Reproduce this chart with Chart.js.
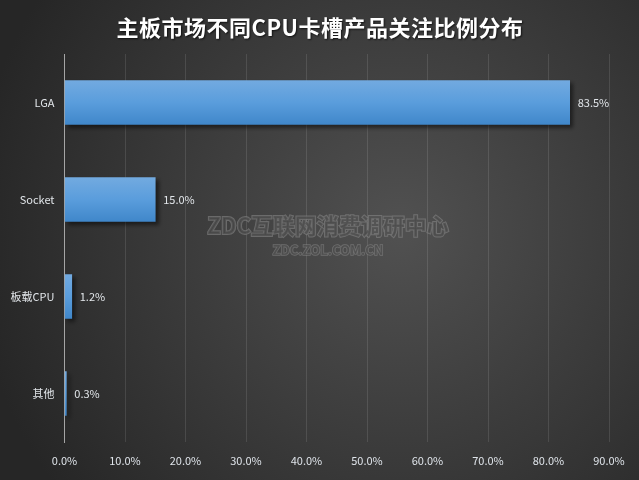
<!DOCTYPE html>
<html>
<head>
<meta charset="utf-8">
<script src="https://cdn.jsdelivr.net/npm/chart.js@4"></script>
<style>
    html, body { margin: 0; padding: 0; background: #2a2a2a; }
    #wrap { width: 639px; height: 480px; }
</style>
</head>
<body>
<div id="wrap"><canvas id="cpuSlots"></canvas></div>
<script>
const TITLE = '主板市场不同CPU卡槽产品关注比例分布';
const CATEGORIES = ['LGA', 'Socket', '板载CPU', '其他'];
const SHARES = [83.5, 15.0, 1.2, 0.3];
const X_MAX = 90;
const X_STEP = 10;

const FONT = '"Noto Sans CJK SC", "Noto Sans", sans-serif';
const BAR_THICK = 44;

// dark radial backdrop, title and watermark
const backdrop = {
    id: 'backdrop',
    beforeDraw(chart) {
        const c = chart.ctx;
        const w = chart.width, h = chart.height;
        c.save();
        const g = c.createRadialGradient(400, 230, 10, 400, 230, 430);
        g.addColorStop(0, '#505050');
        g.addColorStop(1, '#262626');
        c.fillStyle = g;
        c.fillRect(0, 0, w, h);

        c.font = 'bold 22px ' + FONT;
        c.letterSpacing = '0.5px';
        c.textAlign = 'center';
        c.textBaseline = 'middle';
        c.shadowColor = 'rgba(0,0,0,0.7)';
        c.shadowOffsetX = 1;
        c.shadowOffsetY = 1;
        c.shadowBlur = 2;
        c.fillStyle = '#ffffff';
        c.fillText(TITLE, 320, 28);
        c.restore();
    },
    beforeDatasetsDraw(chart) {
        const c = chart.ctx;
        c.save();
        c.textAlign = 'center';
        c.textBaseline = 'middle';
        c.lineWidth = 2;
        c.strokeStyle = 'rgba(135,135,135,0.6)';
        c.fillStyle = 'rgba(72,72,72,0.7)';
        c.font = 'bold 22px ' + FONT;
        c.strokeText('ZDC互联网消费调研中心', 328, 226);
        c.fillText('ZDC互联网消费调研中心', 328, 226);
        c.font = 'bold 13px ' + FONT;
        c.lineWidth = 1.5;
        c.strokeText('ZDC.ZOL.COM.CN', 328, 250);
        c.fillText('ZDC.ZOL.COM.CN', 328, 250);
        c.restore();
    }
};

// bar shadow + value labels
const barDecor = {
    id: 'barDecor',
    beforeDatasetDraw(chart) {
        const c = chart.ctx;
        c.save();
        c.shadowColor = 'rgba(0,0,0,0.5)';
        c.shadowOffsetX = 3;
        c.shadowOffsetY = 3;
        c.shadowBlur = 4;
    },
    afterDatasetDraw(chart) {
        chart.ctx.restore();
    },
    afterDatasetsDraw(chart) {
        const c = chart.ctx;
        const meta = chart.getDatasetMeta(0);
        c.save();
        c.font = '11px ' + FONT;
        c.fillStyle = '#e2e6ea';
        c.textAlign = 'left';
        c.textBaseline = 'middle';
        meta.data.forEach(function (bar, i) {
            c.fillText(SHARES[i].toFixed(1) + '%', bar.x + 8, bar.y);
        });
        c.restore();
    }
};

function barFill(context) {
    const chart = context.chart;
    const y = chart.scales.y;
    if (!y || context.dataIndex === undefined) return '#5598d6';
    const mid = y.getPixelForValue(context.dataIndex);
    if (!isFinite(mid)) return '#5598d6';
    const g = chart.ctx.createLinearGradient(0, mid - BAR_THICK / 2, 0, mid + BAR_THICK / 2);
    g.addColorStop(0, '#72aae0');
    g.addColorStop(0.5, '#5a9ddc');
    g.addColorStop(1, '#4087ca');
    return g;
}

const ctx = document.getElementById('cpuSlots').getContext('2d');
const cpuSlots = new Chart(ctx, {
    type: 'bar',
    data: {
        labels: CATEGORIES,
        datasets: [{
            data: SHARES,
            backgroundColor: barFill,
            borderWidth: 0,
            barThickness: BAR_THICK
        }]
    },
    options: {
        indexAxis: 'y',
        responsive: true,
        maintainAspectRatio: false,
        animation: false,
        layout: {
            padding: { top: 54, right: 30, left: 0, bottom: 0 }
        },
        plugins: {
            legend: { display: false },
            tooltip: { enabled: false }
        },
        scales: {
            x: {
                min: 0,
                max: X_MAX,
                afterFit(scale) { scale.height = 38; },
                ticks: {
                    stepSize: X_STEP,
                    padding: 12,
                    color: '#dfe4ea',
                    font: { family: FONT, size: 11 },
                    callback: function (v) { return v.toFixed(1) + '%'; }
                },
                grid: {
                    drawTicks: false,
                    color: function (c) {
                        return c.index === 0 ? '#a5a5a5' : 'rgba(255,255,255,0.11)';
                    }
                },
                border: { display: false }
            },
            y: {
                afterFit(scale) { scale.width = 64.5; },
                ticks: {
                    padding: 10,
                    color: '#e2e6ea',
                    font: { family: FONT, size: 11 }
                },
                grid: { display: false, drawTicks: false },
                border: { color: '#a5a5a5' }
            }
        }
    },
    plugins: [backdrop, barDecor]
});
</script>
</body>
</html>
